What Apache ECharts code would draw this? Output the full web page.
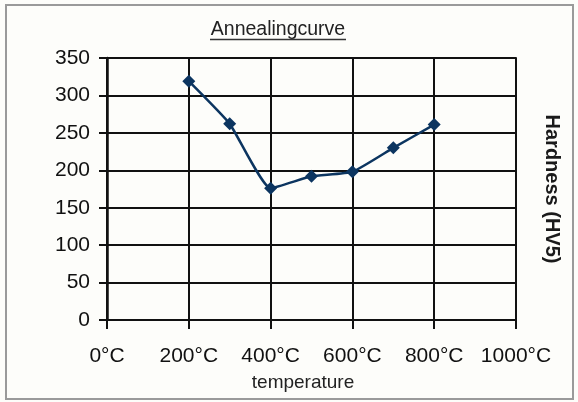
<!DOCTYPE html>
<html>
<head>
<meta charset="utf-8">
<script src="https://cdn.jsdelivr.net/npm/echarts@6/dist/echarts.min.js"></script>
<style>
html,body{margin:0;padding:0;background:#fdfdfa;}
#c{width:578px;height:402px;}
</style>
</head>
<body>
<div id="c"></div>
<script>
var temperatures = [200, 300, 400, 500, 600, 700, 800];
var hardness = [319, 262, 176, 192, 198, 230, 261];
var xTickValues = [0, 200, 400, 600, 800, 1000];
var titleText = 'Annealingcurve';
var xName = 'temperature';
var yName = 'Hardness (HV5)';

var chart = echarts.init(document.getElementById('c'));
var font = 'Liberation Sans, Arial, sans-serif';
var gridColor = '#111';
chart.setOption({
  backgroundColor: '#fdfdfa',
  animation: false,
  graphic: [
    {type: 'text', x: 278, y: 30, silent: true,
      style: {text: titleText, textAlign: 'center', textVerticalAlign: 'middle',
        font: '19.5px Liberation Sans, Arial, sans-serif', fill: '#222'}},
    {type: 'line', shape: {x1: 210, y1: 39.5, x2: 346, y2: 39.5}, style: {stroke: '#333', lineWidth: 1.3}, silent: true},
    {type: 'rect', shape: {x: 6, y: 5, width: 567, height: 394}, style: {fill: 'none', stroke: '#9a9a9a', lineWidth: 2}, silent: true}
  ],
  grid: {left: 107, right: 62, top: 58, bottom: 82, containLabel: false, outerBoundsMode: 'none'},
  xAxis: {
    type: 'value', min: 0, max: 1000, interval: 200,
    name: xName, nameLocation: 'middle', nameGap: 53,
    nameTextStyle: {fontFamily: font, fontSize: 19, color: '#222', padding: [0, 17, 0, 0]},
    axisLine: {show: true, onZero: false, lineStyle: {color: gridColor, width: 2}},
    axisTick: {show: true, length: 9, lineStyle: {color: gridColor, width: 2}},
    axisLabel: {margin: 26, fontFamily: font, fontSize: 21, color: '#111',
      customValues: xTickValues,
      formatter: function (v) { return v + '°C'; }},
    splitLine: {show: true, lineStyle: {color: gridColor, width: 2}}
  },
  yAxis: [{
    type: 'value', min: 0, max: 350, interval: 50,
    axisLine: {show: true, lineStyle: {color: gridColor, width: 2.5}},
    axisTick: {show: true, length: 8, lineStyle: {color: gridColor, width: 2}},
    axisLabel: {margin: 17, fontFamily: font, fontSize: 21, color: '#111'},
    splitLine: {show: true, lineStyle: {color: gridColor, width: 2}}
  }, {
    type: 'value', min: 0, max: 350, interval: 50, position: 'right',
    name: yName, nameLocation: 'middle', nameGap: 26, nameRotate: -90,
    nameTextStyle: {fontFamily: font, fontSize: 20, fontWeight: 'bold', color: '#1a1a1a'},
    axisLine: {show: true, lineStyle: {color: gridColor, width: 2}},
    axisTick: {show: false}, axisLabel: {show: false}, splitLine: {show: false}
  }],
  series: [{
    type: 'line',
    data: temperatures.map(function (t, i) { return [t, hardness[i]]; }),
    smooth: 0.15,
    symbol: 'diamond', symbolSize: 13,
    lineStyle: {color: '#0c3560', width: 2.5},
    itemStyle: {color: '#0c3560'}
  }]
});
</script>
</body>
</html>
